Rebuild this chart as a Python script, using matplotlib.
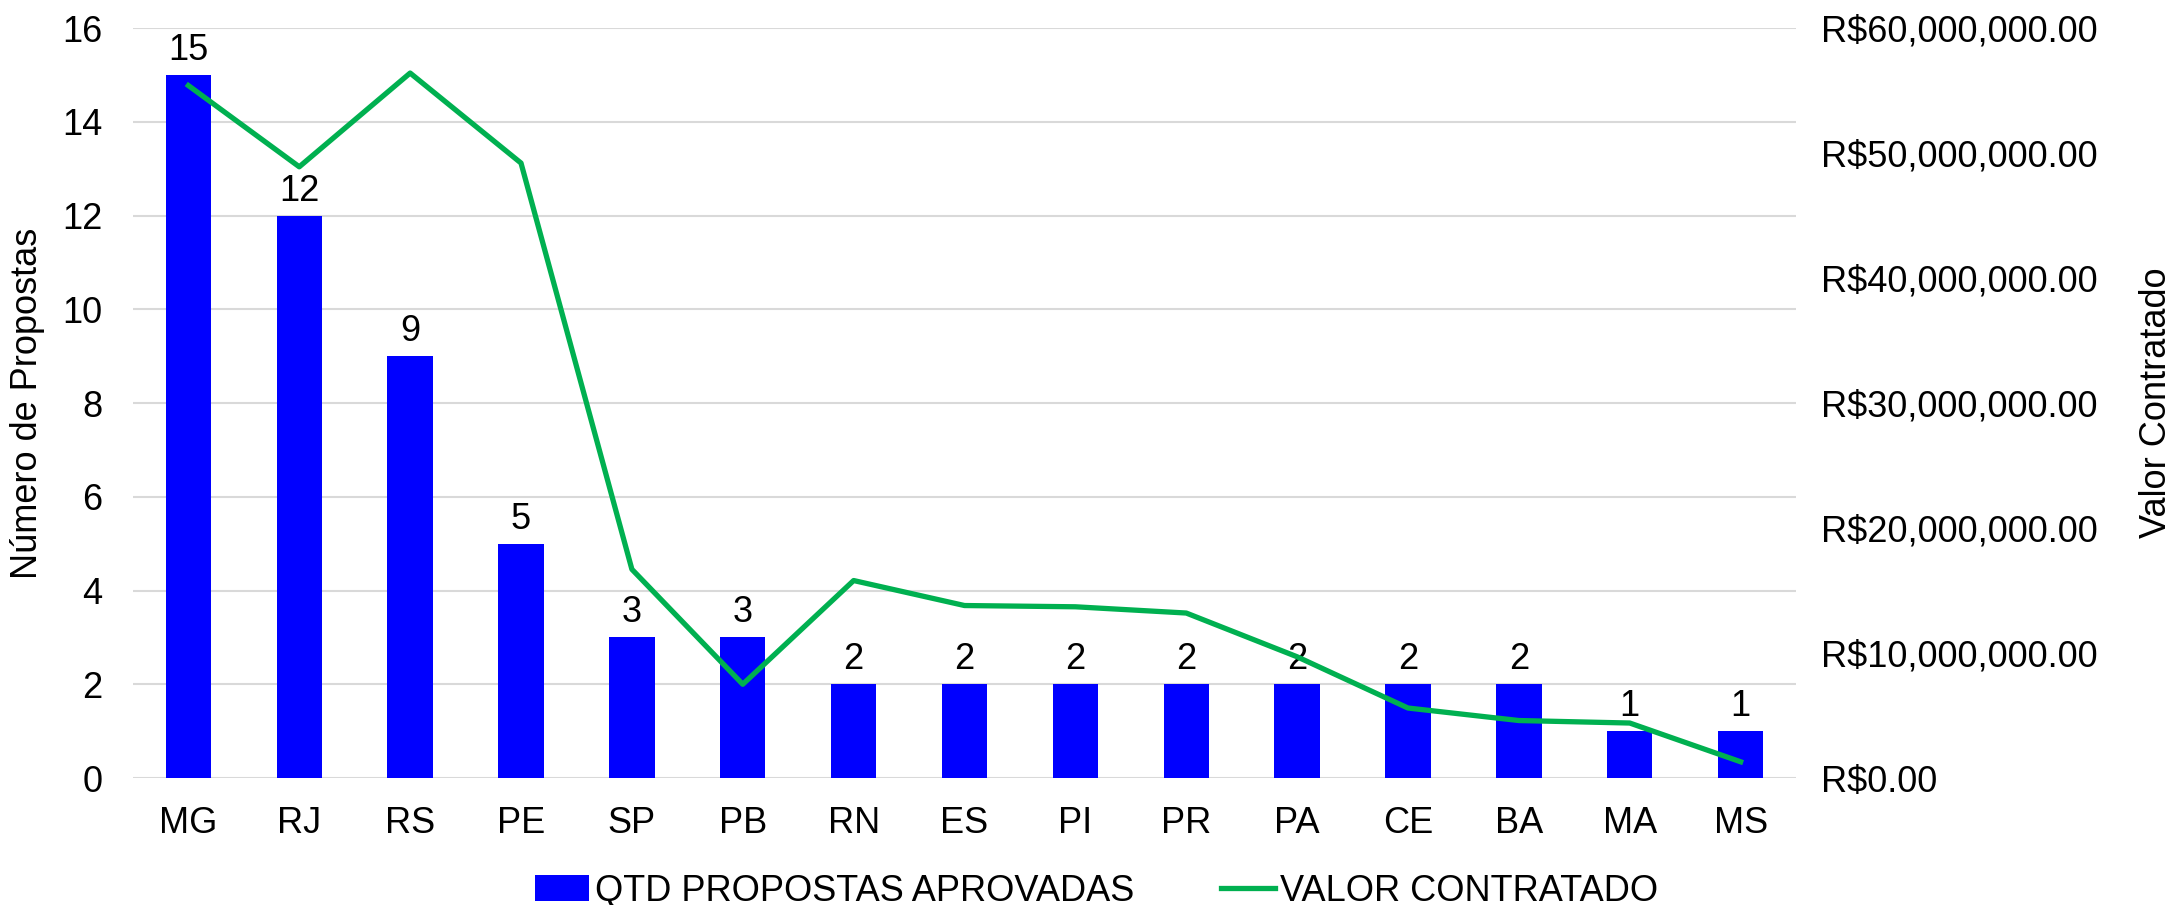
import matplotlib
matplotlib.use('Agg')
from matplotlib import pyplot as plt
from matplotlib.ticker import FuncFormatter
import numpy as np

plt.rcParams['font.family'] = ['Liberation Sans', 'DejaVu Sans']

estados = ['MG', 'RJ', 'RS', 'PE', 'SP', 'PB', 'RN', 'ES', 'PI', 'PR', 'PA', 'CE', 'BA', 'MA', 'MS']
propostas = [15, 12, 9, 5, 3, 3, 2, 2, 2, 2, 2, 2, 2, 1, 1]
valor = [55.4e6, 48.9e6, 56.4e6, 49.2e6, 16.7e6, 7.5e6, 15.8e6, 13.8e6, 13.7e6,
         13.2e6, 9.7e6, 5.6e6, 4.6e6, 4.4e6, 1.3e6]

fs = 26
x = np.arange(len(estados))

fig = plt.figure(figsize=(21.76, 9.05), dpi=100)
ax = fig.add_axes([0.0611, 0.1403, 0.7643, 0.8287])

ax.set_axisbelow(True)
ax.grid(axis='y', color='#D9D9D9', lw=1.5)
bars = ax.bar(x, propostas, width=0.41, color='#0000FF', label='QTD PROPOSTAS APROVADAS', zorder=2)
for xi, v in zip(x, propostas):
    ax.annotate(str(v), (xi, v), xytext=(0, 5), textcoords='offset points',
                ha='center', va='bottom', fontsize=fs)

ax.set_xlim(-0.5, len(estados) - 0.5)
ax.set_ylim(0, 16)
ax.set_yticks(range(0, 17, 2))
ax.set_xticks(x)
ax.set_xticklabels(estados)
ax.tick_params(axis='both', length=0, labelsize=fs)
ax.tick_params(axis='x', pad=20)
ax.tick_params(axis='y', pad=22)
ax.set_ylabel('Número de Propostas', fontsize=fs, labelpad=12)
for s in ax.spines.values():
    s.set_visible(False)

ax2 = ax.twinx()
line, = ax2.plot(x, valor, color='#00B050', lw=3.8, label='VALOR CONTRATADO', zorder=3)
ax2.set_ylim(0, 60e6)
ax2.set_yticks(np.arange(0, 60e6 + 1, 10e6))
ax2.yaxis.set_major_formatter(FuncFormatter(lambda v, p: 'R${:,.2f}'.format(v)))
ax2.tick_params(axis='y', length=0, labelsize=fs, pad=18)
ax2.set_ylabel('Valor Contratado', fontsize=fs, labelpad=30)
for s in ax2.spines.values():
    s.set_visible(False)

fig.legend([bars, line], ['QTD PROPOSTAS APROVADAS', 'VALOR CONTRATADO'],
           loc='lower center', bbox_to_anchor=(0.504, -0.04), ncol=2, frameon=False,
           fontsize=fs, handlelength=1.5, handletextpad=0.15, columnspacing=2.4)

fig.savefig('out.png', dpi=100)
